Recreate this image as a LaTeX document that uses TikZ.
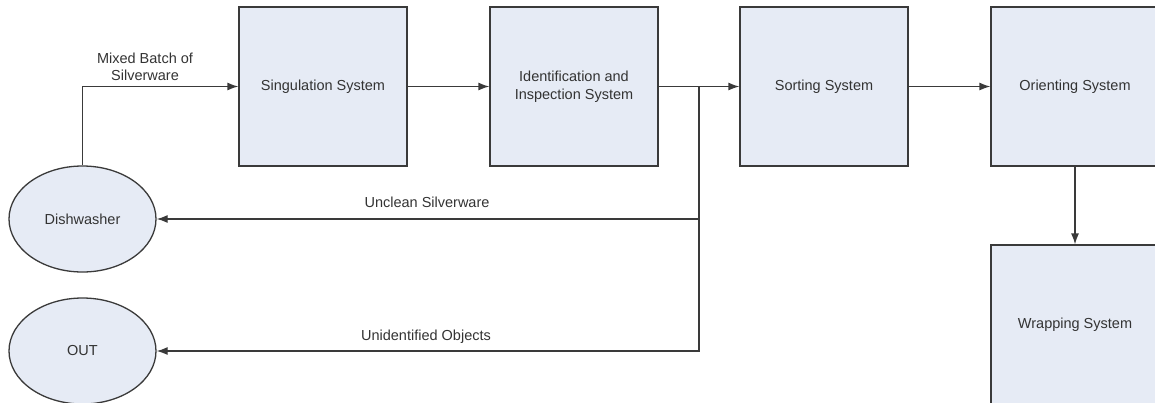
\documentclass[tikz,border=0pt]{standalone}
\usepackage{fontspec}
\setmainfont{Liberation Sans}
\usetikzlibrary{arrows.meta,shapes.geometric}
\definecolor{boxfill}{HTML}{E6EBF5}
\definecolor{boxline}{HTML}{3A3A3A}
\definecolor{txt}{HTML}{333333}
\begin{document}
\begin{tikzpicture}[x=1pt,y=-1pt,
  every node/.style={font=\fontsize{14.5}{17.5}\selectfont, text=txt},
  sysbox/.style={draw=boxline, fill=boxfill, line width=1.3pt, rectangle,
    minimum width=168pt, minimum height=159pt, align=center, inner sep=0pt},
  termnode/.style={draw=boxline, fill=boxfill, line width=1.3pt, ellipse,
    minimum width=147pt, minimum height=106pt, inner sep=0pt},
  arr/.style={draw=boxline, line width=1.3pt, -{Latex[length=11pt,width=8pt]}},
  plain/.style={draw=boxline, line width=1.3pt},
  lbl/.style={align=center, inner sep=0pt}]
\useasboundingbox (0,0) rectangle (1155,402);
\clip (0,0) rectangle (1155,402);
\node[sysbox] (sing) at (323,86.5) {Singulation System};
\node[sysbox] (ident) at (574,86.5) {Identification and\\Inspection System};
\node[sysbox] (sort) at (824,86.5) {Sorting System};
\node[sysbox] (orient) at (1075,86.5) {Orienting System};
\node[sysbox] (wrap) at (1075,324.5) {Wrapping System};
\node[termnode] (dish) at (82.5,219) {Dishwasher};
\node[termnode] (out) at (82.5,351) {OUT};
\coordinate (J) at (699,86.5);
\draw[arr] (dish.north) |- (sing.west);
\draw[arr] (sing.east) -- (ident.west);
\draw[arr] (ident.east) -- (sort.west);
\draw[plain] (J) -- (699,351);
\draw[arr] (J) |- (dish.east);
\draw[arr] (J) |- (out.east);
\draw[arr] (sort.east) -- (orient.west);
\draw[arr] (orient.south) -- (wrap.north);
\node[lbl] (lmix) at (145,67) {Mixed Batch of\\Silverware};
\node[lbl] (lunc) at (427,202) {Unclean Silverware};
\node[lbl] (lunid) at (426,337) {Unidentified Objects};
\end{tikzpicture}
\end{document}
